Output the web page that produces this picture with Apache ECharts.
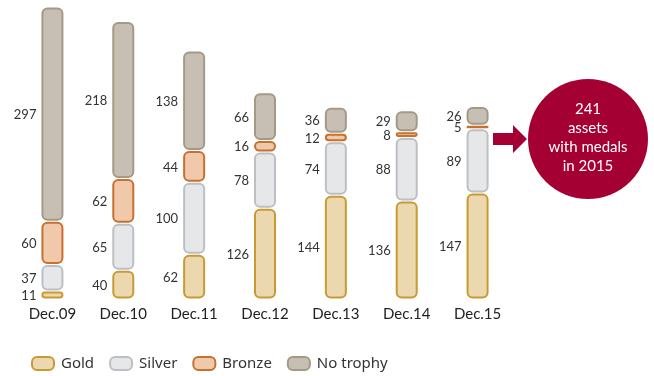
<!DOCTYPE html>
<html>
<head>
<meta charset="utf-8">
<script src="https://cdn.jsdelivr.net/npm/echarts@6/dist/echarts.min.js"></script>
<style>
  html, body { margin: 0; padding: 0; background: #fff; }
  #chart { width: 654px; height: 376px; }
</style>
</head>
<body>
<div id="chart"></div>
<script>
// Asset counts by medal rating at each December year-end
const categories = ['Dec.09', 'Dec.10', 'Dec.11', 'Dec.12', 'Dec.13', 'Dec.14', 'Dec.15'];
const gold     = [11, 40, 62, 126, 144, 136, 147];
const silver   = [37, 65, 100, 78, 74, 88, 89];
const bronze   = [60, 62, 44, 16, 12, 8, 5];
const noTrophy = [297, 218, 138, 66, 36, 29, 26];

const seriesDefs = [
  { name: 'Gold',      values: gold,     fill: '#ECD8AE', stroke: '#C99A32' },
  { name: 'Silver',    values: silver,   fill: '#E6E7E9', stroke: '#BCC0C4' },
  { name: 'Bronze',    values: bronze,   fill: '#EFC9AA', stroke: '#C8702F' },
  { name: 'No trophy', values: noTrophy, fill: '#C8BFB4', stroke: '#A39A86' }
];

// Build stacked [catIndex, start, end, value] records for each layer
const base = categories.map(() => 0);
const layers = seriesDefs.map(def => {
  const rows = def.values.map((v, i) => {
    const row = [i, base[i], base[i] + v, v];
    base[i] += v;
    return row;
  });
  return { def, rows };
});

const BAR_W = 22;
const INSET = 1.5;

function makeRenderer(def) {
  return function (params, api) {
    const i = api.value(0);
    const p0 = api.coord([i, api.value(1)]);
    const p1 = api.coord([i, api.value(2)]);
    const x = p0[0] - BAR_W / 2 + 1;
    const yTop = p1[1] + INSET;
    const yBot = p0[1] - INSET;
    const h = Math.max(yBot - yTop, 0.5);
    const r = Math.min(5, h / 2 + 1);
    return {
      type: 'group',
      children: [
        {
          type: 'rect',
          shape: { x: x, y: yTop, width: BAR_W - 2, height: h, r: r },
          style: { fill: def.fill, stroke: def.stroke, lineWidth: 2 }
        },
        {
          type: 'text',
          style: {
            text: String(api.value(3)),
            x: p0[0] - BAR_W / 2 - 5,
            y: (p0[1] + p1[1]) / 2 + 1,
            align: 'right',
            verticalAlign: 'middle',
            fill: '#333',
            font: '13px Lato, "Noto Sans", sans-serif'
          }
        }
      ]
    };
  };
}

// Pill-shaped legend marker
const PILL = 'path://M5,0 H17 A5,5 0 0 1 22,5 V8 A5,5 0 0 1 17,13 H5 A5,5 0 0 1 0,8 V5 A5,5 0 0 1 5,0 Z';

const chart = echarts.init(document.getElementById('chart'), null, { renderer: 'canvas' });

chart.setOption({
  animation: false,
  grid: { left: 17, width: 496, top: 7, bottom: 77 },
  xAxis: {
    type: 'category',
    data: categories,
    axisLine: { show: false },
    axisTick: { show: false },
    axisLabel: {
      margin: 8,
      color: '#222',
      fontSize: 15,
      fontFamily: 'Lato, "Noto Sans", sans-serif'
    }
  },
  yAxis: {
    type: 'value',
    min: 0,
    max: 405,
    show: false
  },
  legend: {
    left: 26,
    top: 351,
    itemWidth: 22,
    itemHeight: 13,
    itemGap: 15,
    icon: PILL,
    textStyle: { color: '#333', fontSize: 15, fontFamily: '"Noto Sans", sans-serif', padding: [0, 0, 0, 2] },
    data: seriesDefs.map(d => ({
      name: d.name,
      itemStyle: { color: d.fill, borderColor: d.stroke, borderWidth: 2 }
    }))
  },
  series: layers.map(({ def, rows }) => ({
    name: def.name,
    type: 'custom',
    renderItem: makeRenderer(def),
    itemStyle: { color: def.fill, borderColor: def.stroke, borderWidth: 2 },
    encode: { x: 0, y: [1, 2] },
    data: rows
  })),
  graphic: [
    {
      type: 'polygon',
      shape: {
        points: [[493, 133], [513, 133], [513, 125], [527, 139], [513, 153], [513, 145], [493, 145]]
      },
      style: { fill: '#A50034' }
    },
    {
      type: 'circle',
      shape: { cx: 588, cy: 139, r: 60 },
      style: { fill: '#A50034' }
    },
    {
      type: 'text',
      style: {
        text: '241\nassets\nwith medals\nin 2015',
        x: 588,
        y: 138,
        align: 'center',
        verticalAlign: 'middle',
        fill: '#fff',
        font: '15px Lato, "Noto Sans", sans-serif',
        lineHeight: 19
      }
    }
  ]
});
</script>
</body>
</html>
